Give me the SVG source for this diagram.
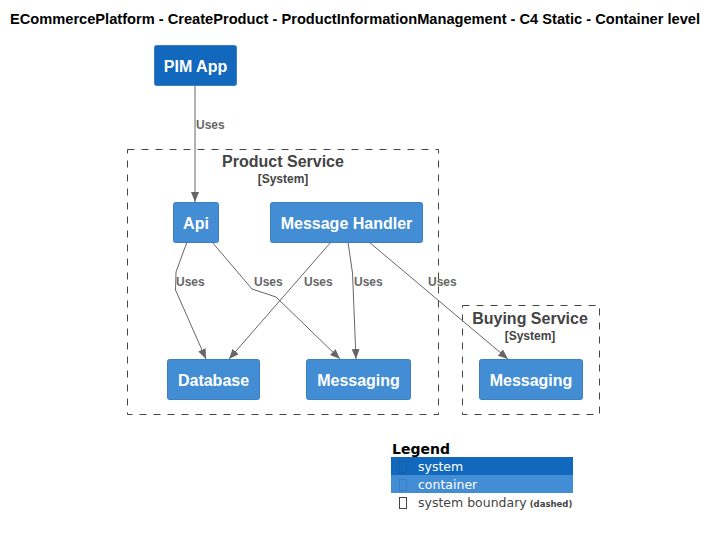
<svg xmlns="http://www.w3.org/2000/svg" width="718" height="536" viewBox="0 0 718 536">
<defs>
<marker id="arr" markerWidth="10" markerHeight="8" refX="10" refY="4" orient="auto" markerUnits="userSpaceOnUse">
<path d="M0,0 L10,4 L0,8 Z" fill="#666666"/>
</marker>
<style>
.title{font-family:"Liberation Sans",Arial,sans-serif;font-size:14px;font-weight:bold;fill:#000}
.sys{fill:#1168BD;stroke:#3C7FC0;stroke-width:1}
.cont{fill:#438DD5;stroke:#3C7FC0;stroke-width:1}
.nlabel{font-family:"Liberation Sans",Arial,sans-serif;font-size:16px;font-weight:bold;fill:#ffffff;text-anchor:middle}
.bnd{fill:none;stroke:#444444;stroke-width:1;stroke-dasharray:7,7}
.btitle{font-family:"Liberation Sans",Arial,sans-serif;font-size:16px;font-weight:bold;fill:#444444;text-anchor:middle}
.bsub{font-family:"Liberation Sans",Arial,sans-serif;font-size:12px;font-weight:bold;fill:#444444;text-anchor:middle}
.edge{fill:none;stroke:#666666;stroke-width:1;marker-end:url(#arr)}
.elabel{font-family:"Liberation Sans",Arial,sans-serif;font-size:12px;font-weight:bold;fill:#666666}
.lg{font-family:"DejaVu Sans",sans-serif;font-size:12.5px}
</style>
</defs>
<rect width="718" height="536" fill="#ffffff"/>
<text class="title" x="10" y="24" textLength="690" lengthAdjust="spacingAndGlyphs">ECommercePlatform - CreateProduct - ProductInformationManagement - C4 Static - Container level</text>

<g id="productService">
<rect class="bnd" x="127.5" y="149.5" width="311" height="265"/>
<text class="btitle" x="283" y="167">Product Service</text>
<text class="bsub" x="283" y="183">[System]</text>
</g>
<g id="buyingService">
<rect class="bnd" x="462.5" y="305.5" width="137" height="109"/>
<text class="btitle" x="530" y="324">Buying Service</text>
<text class="bsub" x="530" y="340">[System]</text>
</g>

<g id="connectors">
<path class="edge" d="M195,85 L195,202"/>
<text class="elabel" x="196" y="129">Uses</text>
<path class="edge" d="M187,242 L176,272 L175.5,290 L206,359"/>
<text class="elabel" x="176" y="286">Uses</text>
<path class="edge" d="M212,242 L252,289 L276,297 L340,359"/>
<text class="elabel" x="254" y="286">Uses</text>
<path class="edge" d="M331,242 L229,359"/>
<text class="elabel" x="304" y="286">Uses</text>
<path class="edge" d="M348,242 L352.5,273 L356,359"/>
<text class="elabel" x="354" y="286">Uses</text>
<path class="edge" d="M369,242 L508,359"/>
<text class="elabel" x="428" y="286">Uses</text>
</g>

<g id="pimApp">
<rect class="sys" x="154.5" y="45.5" width="82" height="40" rx="2"/>
<text class="nlabel" x="195.5" y="72">PIM App</text>
</g>
<g id="api">
<rect class="cont" x="173.5" y="202.5" width="45" height="40" rx="2"/>
<text class="nlabel" x="196" y="229">Api</text>
</g>
<g id="messageHandler">
<rect class="cont" x="270.5" y="202.5" width="152" height="40" rx="2"/>
<text class="nlabel" x="346.5" y="229">Message Handler</text>
</g>
<g id="database">
<rect class="cont" x="167.5" y="359.5" width="92" height="40" rx="2"/>
<text class="nlabel" x="213.5" y="386">Database</text>
</g>
<g id="messaging">
<rect class="cont" x="306.5" y="359.5" width="104" height="40" rx="2"/>
<text class="nlabel" x="358.5" y="386">Messaging</text>
</g>
<g id="buyingMessaging">
<rect class="cont" x="479.5" y="359.5" width="103" height="40" rx="2"/>
<text class="nlabel" x="531" y="386">Messaging</text>
</g>

<g id="legend">
<text x="392" y="454" style="font-family:'DejaVu Sans',sans-serif;font-size:14px;font-weight:bold;fill:#000">Legend</text>
<rect x="391" y="457" width="182" height="18" fill="#1168BD"/>
<rect x="399.5" y="461.5" width="7" height="11" fill="none" stroke="#1a5ea6" stroke-width="1"/>
<text class="lg" x="418" y="471" fill="#ffffff">system</text>
<rect x="391" y="475" width="182" height="18" fill="#438DD5"/>
<rect x="399.5" y="479.5" width="7" height="11" fill="none" stroke="#3a7fc4" stroke-width="1"/>
<text class="lg" x="418" y="489" fill="#ffffff">container</text>
<rect x="399.5" y="497.5" width="7" height="11" fill="none" stroke="#444444" stroke-width="1"/>
<text class="lg" x="418" y="507" fill="#444444">system boundary<tspan font-size="8.5" font-weight="bold" dx="3">(dashed)</tspan></text>
</g>
</svg>
